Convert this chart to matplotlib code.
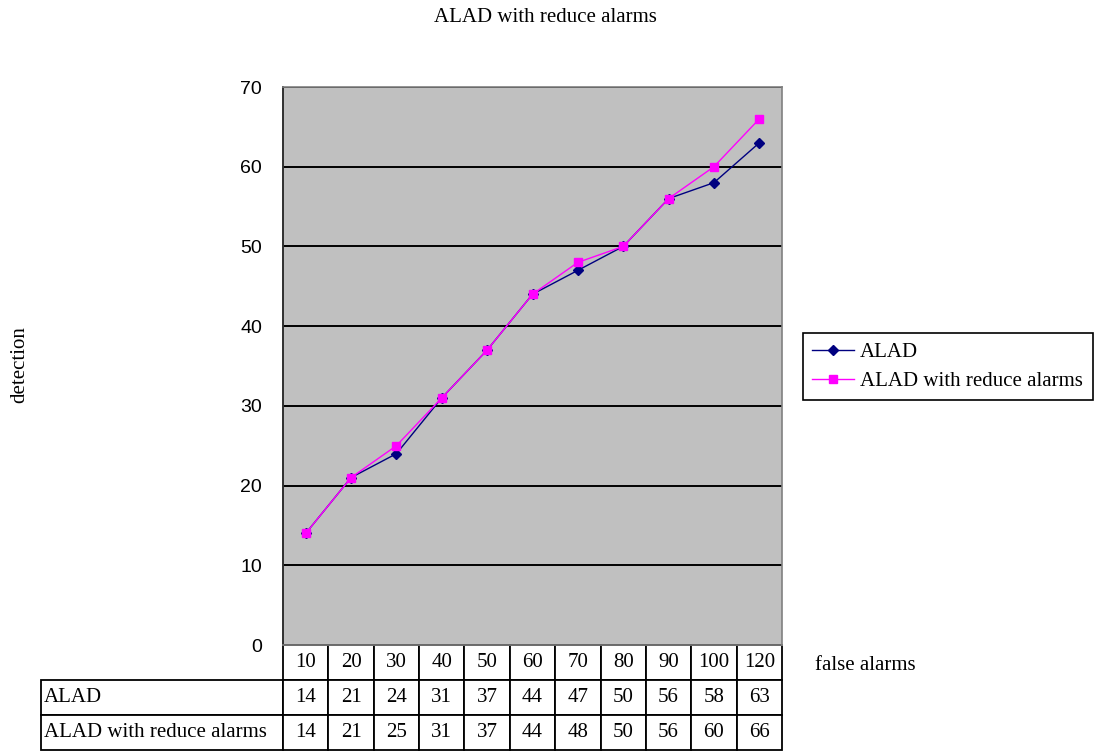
import numpy as np
import matplotlib
matplotlib.use('Agg')
import matplotlib.pyplot as plt

# data
false_alarms = ['10', '20', '30', '40', '50', '60', '70', '80', '90', '100', '120']
alad = [14, 21, 24, 31, 37, 44, 47, 50, 56, 58, 63]
alad_reduced = [14, 21, 25, 31, 37, 44, 48, 50, 56, 60, 66]
series_names = ['ALAD', 'ALAD with reduce alarms']

serif = 'Liberation Serif'
W, H = 1098, 751
fig = plt.figure(figsize=(W / 100, H / 100), dpi=100)

# plot area in pixels: x 283..782, y 87..645
ax = fig.add_axes([283 / W, 1 - 645 / H, 499 / W, 558 / H])
ax.set_facecolor('#C0C0C0')

x = np.arange(len(false_alarms))
ax.plot(x, alad, color='#000080', marker='D', markersize=5, linewidth=1.0,
        label=series_names[0])
ax.plot(x, alad_reduced, color='#FF00FF', marker='s', markersize=5.5, linewidth=1.0,
        label=series_names[1])

ax.set_xlim(-0.5, len(false_alarms) - 0.5)
ax.set_ylim(0, 70)
ax.set_yticks(np.arange(0, 71, 10))
ax.set_xticks([])
ax.tick_params(axis='y', length=0, pad=15, labelsize=14)
for lbl in ax.get_yticklabels():
    lbl.set_family('Liberation Sans')
ax.yaxis.grid(True, color='black', linewidth=1.4)
ax.set_axisbelow(True)
for side in ['top', 'right', 'bottom']:
    ax.spines[side].set_color('#808080')
    ax.spines[side].set_linewidth(1.2)
ax.spines['left'].set_color('#303030')
ax.spines['left'].set_linewidth(1.4)

# data table under the plot
cell_text = [[series_names[0]] + [str(v) for v in alad],
             [series_names[1]] + [str(v) for v in alad_reduced]]
label_w = 242 / 499
col_w = (1.0) / len(false_alarms)
tbl = ax.table(cellText=cell_text, colLabels=[''] + false_alarms,
               colWidths=[label_w] + [col_w] * len(false_alarms),
               cellLoc='center',
               bbox=[-label_w, -105 / 558, 1 + label_w, 105 / 558])
tbl.auto_set_font_size(False)
tbl.set_fontsize(15)
for (r, c), cell in tbl.get_celld().items():
    cell.set_edgecolor('black')
    cell.set_linewidth(1.3)
    cell.get_text().set_family(serif)
    if r == 0 and c == 0:
        cell.visible_edges = ''
    elif c == 0:
        cell.PAD = 0.012
        cell.get_text().set_ha('left')

fig.text(545 / W, 1 - 17 / H, 'ALAD with reduce alarms', ha='center', va='center',
         family=serif, fontsize=15)
fig.text(20 / W, 1 - 365 / H, 'detection', ha='center', va='center', rotation=90,
         family=serif, fontsize=15)
fig.text(815 / W, 1 - 665 / H, 'false alarms', ha='left', va='center',
         family=serif, fontsize=15)

leg = fig.legend(loc='upper left', bbox_to_anchor=(803 / W, 1 - 333 / H),
                 frameon=True, fancybox=False, edgecolor='black', framealpha=1,
                 prop={'family': serif, 'size': 15}, handlelength=2.0,
                 handletextpad=0.3, borderpad=0.45, labelspacing=0.45,
                 borderaxespad=0)
leg.get_frame().set_linewidth(1.2)

fig.savefig('out.png', dpi=100)
